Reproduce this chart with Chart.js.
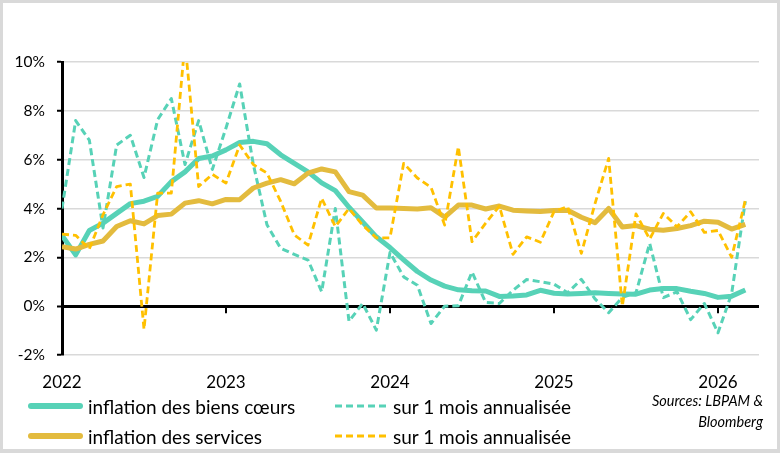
<!DOCTYPE html>
<html>
<head>
<meta charset="utf-8">
<script src="https://cdn.jsdelivr.net/npm/chart.js@4.4.1/dist/chart.umd.min.js"></script>
<style>
  body { margin: 0; background: #fff; }
  #wrap { position: relative; width: 780px; height: 453px; font-family: Lato, sans-serif; color: #000; }
  #frame { position: absolute; left: 0; top: 0; width: 780px; height: 453px; box-sizing: border-box;
           border: 3px solid #d9d9d9; border-bottom-width: 4px; pointer-events: none; }
  #legend { position: absolute; left: 28px; top: 391px; display: grid;
            grid-template-columns: 307px auto; grid-auto-rows: 30px; }
  .item { display: flex; align-items: center; font-size: 19px; white-space: nowrap; }
  .item svg { margin-right: 5px; }
  #source { position: absolute; right: 17px; top: 390px; text-align: right; font-style: italic;
            font-size: 14.5px; line-height: 21px; }
</style>
</head>
<body>
<div id="wrap">
  <canvas id="chart" width="780" height="453"></canvas>
  <div id="legend"></div>
  <div id="source">Sources: LBPAM &amp;<br>Bloomberg</div>
  <div id="frame"></div>
</div>
<script>
// mois depuis janvier 2022 (index 0) jusqu'à mars 2026
const tickYears = ['2022', '2023', '2024', '2025', '2026'];

const coreGoods = [2.9, 2.1, 3.1, 3.4, 3.8, 4.2, 4.3, 4.5, 5.1, 5.5, 6.05, 6.15,
  6.4, 6.7, 6.75, 6.65, 6.2, 5.85, 5.5, 5.05, 4.73, 4.05, 3.45, 2.84,
  2.4, 1.9, 1.42, 1.07, 0.82, 0.67, 0.63, 0.62, 0.4, 0.42, 0.46, 0.65,
  0.53, 0.5, 0.52, 0.55, 0.52, 0.5, 0.49, 0.66, 0.72, 0.72, 0.61, 0.52,
  0.36, 0.41, 0.66];

const coreGoodsMonthly = [4.0, 7.6, 6.8, 3.2, 6.6, 7.0, 5.27, 7.64, 8.5, 5.8, 7.6, 5.6,
  7.3, 9.1, 5.8, 3.33, 2.37, 2.12, 1.89, 0.59, 4.0, -0.62, 0.11, -0.98,
  2.2, 1.2, 0.86, -0.71, 0.0, 0.02, 1.4, 0.15, 0.11, 0.65, 1.09, 1.0,
  0.9, 0.55, 1.1, 0.3, -0.27, 0.36, 0.55, 2.57, 0.35, 0.59, -0.55, 0.11,
  -1.09, 0.52, 4.3];

const services = [2.44, 2.34, 2.53, 2.67, 3.26, 3.5, 3.37, 3.71, 3.77, 4.22, 4.32, 4.19,
  4.37, 4.36, 4.84, 5.04, 5.18, 5.01, 5.45, 5.62, 5.5, 4.69, 4.55, 4.02,
  4.02, 4.0, 3.98, 4.03, 3.65, 4.14, 4.14, 3.98, 4.1, 3.93, 3.9, 3.88,
  3.92, 3.93, 3.64, 3.42, 4.0, 3.24, 3.3, 3.15, 3.11, 3.18, 3.3, 3.48,
  3.44, 3.16, 3.35];

const servicesMonthly = [2.95, 2.9, 2.35, 3.74, 4.9, 5.0, -0.95, 4.63, 4.63, 10.8, 4.9, 5.4,
  5.04, 6.6, 5.8, 5.45, 4.29, 2.92, 2.5, 4.42, 3.26, 4.0, 3.32, 2.8,
  2.8, 5.85, 5.25, 4.87, 3.32, 6.53, 2.64, 3.4, 4.1, 2.12, 2.84, 2.62,
  3.87, 4.08, 2.16, 4.2, 6.05, 0.0, 3.78, 2.75, 3.8, 3.25, 3.87, 3.02,
  3.1, 2.0, 4.34];

const labels = ['inflation des biens cœurs', 'sur 1 mois annualisée',
  'inflation des services', 'sur 1 mois annualisée'];

const TEAL = '#57D2B7';
const GOLD = '#E3BB3E';
const YELLOW = '#FFC000';

function toPoints(arr) {
  return arr.map(function (v, i) { return { x: i, y: v }; });
}

// petits traits sous l'axe 0 aux débuts d'année
const yearTicks = {
  id: 'yearTicks',
  beforeDatasetsDraw(chart) {
    const x = chart.scales.x, y = chart.scales.y;
    const y0 = y.getPixelForValue(0);
    const ctx = chart.ctx;
    ctx.save();
    ctx.strokeStyle = '#000';
    ctx.lineWidth = 2;
    x.ticks.forEach(function (t) {
      if (t.value % 12 !== 0 || t.value === 0) return;
      const px = Math.round(x.getPixelForValue(t.value));
      ctx.beginPath();
      ctx.moveTo(px, y0);
      ctx.lineTo(px, y0 + 7);
      ctx.stroke();
    });
    ctx.restore();
  }
};

const datasets = [
  { label: labels[0], data: toPoints(coreGoods), borderColor: TEAL, borderWidth: 5, order: 3 },
  { label: labels[1], data: toPoints(coreGoodsMonthly), borderColor: TEAL, borderWidth: 3, borderDash: [7, 4], order: 2 },
  { label: labels[2], data: toPoints(services), borderColor: GOLD, borderWidth: 5, order: 1 },
  { label: labels[3], data: toPoints(servicesMonthly), borderColor: YELLOW, borderWidth: 2.8, borderDash: [7, 4], order: 0 }
];

new Chart(document.getElementById('chart'), {
  type: 'line',
  data: { datasets: datasets },
  options: {
    responsive: false,
    animation: false,
    layout: { padding: { left: 0, right: 21, top: 62, bottom: 0 } },
    elements: {
      point: { radius: 0 },
      line: { tension: 0, borderCapStyle: 'butt', borderJoinStyle: 'round', fill: false }
    },
    plugins: { legend: { display: false }, tooltip: { enabled: false } },
    scales: {
      x: {
        type: 'linear',
        min: 0,
        max: 51,
        grid: { display: false, drawTicks: false },
        border: { display: false },
        ticks: {
          stepSize: 12,
          includeBounds: false,
          autoSkip: false,
          maxRotation: 0,
          padding: 17,
          color: '#000',
          font: { family: 'Lato', size: 17 },
          callback: function (v) { return v % 12 === 0 ? tickYears[v / 12] : ''; }
        },
        afterFit: function (s) { s.height = 98; }
      },
      y: {
        min: -2,
        max: 10,
        grid: {
          color: function (c) { return c.tick && c.tick.value === 0 ? '#000' : '#d9d9d9'; },
          lineWidth: function (c) { return c.tick && c.tick.value === 0 ? 3 : 1.5; },
          tickColor: '#000',
          tickLength: 5,
          tickWidth: 2
        },
        border: { color: '#000', width: 3 },
        ticks: {
          stepSize: 2,
          padding: 12,
          color: '#000',
          font: { family: 'Lato', size: 15.5 },
          callback: function (v) { return v + '%'; }
        },
        afterFit: function (s) { s.width = 62; }
      }
    }
  },
  plugins: [yearTicks]
});

// légende HTML en deux colonnes
const legend = document.getElementById('legend');
datasets.forEach(function (d) {
  const item = document.createElement('div');
  item.className = 'item';
  const dash = d.borderDash ? 'stroke-dasharray="7 4"' : 'stroke-linecap="round"';
  const w = d.borderDash ? 3 : 6;
  const len = d.borderDash ? 53 : 55;
  item.innerHTML = '<svg width="' + len + '" height="10"><line x1="' + (d.borderDash ? 0 : 3) +
    '" y1="5" x2="' + (d.borderDash ? len : len - 3) + '" y2="5" stroke="' + d.borderColor +
    '" stroke-width="' + w + '" ' + dash + '/></svg><span>' + d.label + '</span>';
  legend.appendChild(item);
});
</script>
</body>
</html>
